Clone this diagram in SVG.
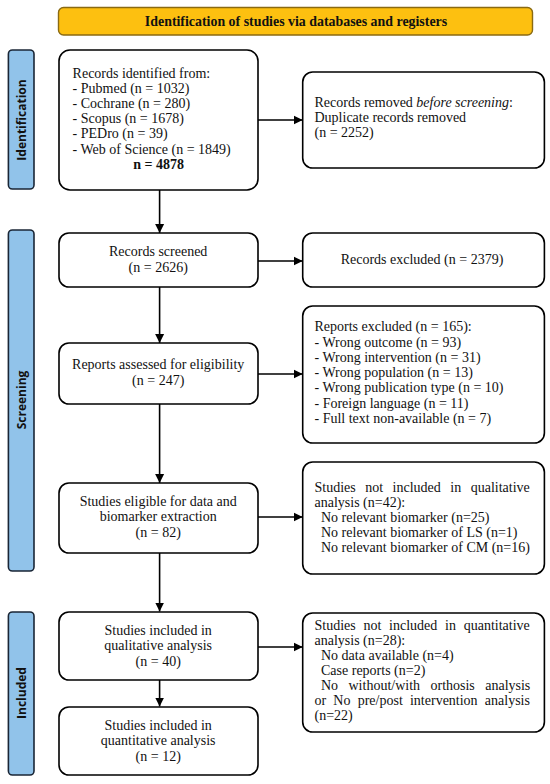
<svg xmlns="http://www.w3.org/2000/svg" width="550" height="784" viewBox="0 0 550 784">
<defs>
<marker id="ah" markerWidth="10" markerHeight="10" refX="9" refY="5" orient="auto" markerUnits="userSpaceOnUse">
<path d="M0,0.5 L9,5 L0,9.5 Z" fill="#000"/>
</marker>
<style>
.box{fill:#fff;stroke:#000;stroke-width:1.6}
.side{fill:#91c3ea;stroke:#1a2636;stroke-width:1.6}
.hdr{fill:#fdc010;stroke:#8a6a12;stroke-width:1.4}
.t{font-family:"Liberation Serif","Times New Roman",serif;font-size:14px;fill:#111}
.c{text-anchor:middle}
.b{font-weight:bold}
.sl{font-family:"Open Sans","DejaVu Sans",sans-serif;font-size:12px;font-weight:bold;fill:#111;text-anchor:middle}
.ln{stroke:#000;stroke-width:1.6;fill:none;marker-end:url(#ah)}
</style>
</defs>
<rect width="550" height="784" fill="#fff"/>

<g id="header">
<rect class="hdr" x="58.5" y="7.5" width="474" height="27.5" rx="5"/>
<text class="t b c" x="296" y="25.5" style="font-size:13.9px">Identification of studies via databases and registers</text>
</g>

<g id="side-identification">
<rect class="side" x="8.4" y="50" width="25.6" height="139" rx="4"/>
<text class="sl" transform="translate(25.5,120) rotate(-90)">Identification</text>
</g>
<g id="side-screening">
<rect class="side" x="8.4" y="230" width="25.6" height="341" rx="4"/>
<text class="sl" transform="translate(25.5,400) rotate(-90)">Screening</text>
</g>
<g id="side-included">
<rect class="side" x="8.4" y="612" width="25.6" height="163" rx="4"/>
<text class="sl" transform="translate(25.5,693) rotate(-90)">Included</text>
</g>

<g id="connectors">
<line class="ln" x1="258" y1="120" x2="302.7" y2="120"/>
<line class="ln" x1="159.6" y1="190" x2="159.6" y2="233"/>
<line class="ln" x1="258" y1="261" x2="302.7" y2="261"/>
<line class="ln" x1="159.6" y1="287" x2="159.6" y2="343"/>
<line class="ln" x1="258" y1="374" x2="302.7" y2="374"/>
<line class="ln" x1="159.6" y1="404" x2="159.6" y2="483"/>
<line class="ln" x1="258" y1="517" x2="302.7" y2="517"/>
<line class="ln" x1="159.6" y1="553" x2="159.6" y2="611.5"/>
<line class="ln" x1="258" y1="647" x2="302.7" y2="647"/>
<line class="ln" x1="159.6" y1="680" x2="159.6" y2="706.5"/>
</g>

<g id="records-identified">
<rect class="box" x="59" y="50" width="199" height="140" rx="11"/>
<text class="t" x="72.6" y="78">Records identified from:</text>
<text class="t" x="72.6" y="93">- Pubmed (n = 1032)</text>
<text class="t" x="72.6" y="108">- Cochrane (n = 280)</text>
<text class="t" x="72.6" y="123">- Scopus (n = 1678)</text>
<text class="t" x="72.6" y="138">- PEDro (n = 39)</text>
<text class="t" x="72.6" y="154">- Web of Science (n = 1849)</text>
<text class="t b c" x="158.7" y="169">n = 4878</text>
</g>

<g id="records-removed">
<rect class="box" x="302.7" y="72" width="241.7" height="96" rx="10"/>
<text class="t" x="314.5" y="107">Records removed <tspan font-style="italic">before screening</tspan>:</text>
<text class="t" x="314.5" y="122">Duplicate records removed</text>
<text class="t" x="314.5" y="137">(n = 2252)</text>
</g>

<g id="records-screened">
<rect class="box" x="59" y="233" width="199" height="54" rx="10"/>
<text class="t c" x="158.2" y="256">Records screened</text>
<text class="t c" x="158.2" y="272">(n = 2626)</text>
</g>

<g id="records-excluded">
<rect class="box" x="302.7" y="233" width="241.7" height="54" rx="10"/>
<text class="t c" x="422" y="264">Records excluded (n = 2379)</text>
</g>

<g id="reports-assessed">
<rect class="box" x="59" y="343" width="199" height="61" rx="10"/>
<text class="t c" x="158.2" y="369">Reports assessed for eligibility</text>
<text class="t c" x="158.2" y="385">(n = 247)</text>
</g>

<g id="reports-excluded">
<rect class="box" x="302.7" y="306" width="241.7" height="137" rx="10"/>
<text class="t" x="314.5" y="331">Reports excluded (n = 165):</text>
<text class="t" x="314.5" y="347">- Wrong outcome (n = 93)</text>
<text class="t" x="314.5" y="362">- Wrong intervention (n = 31)</text>
<text class="t" x="314.5" y="377">- Wrong population (n = 13)</text>
<text class="t" x="314.5" y="392">- Wrong publication type (n = 10)</text>
<text class="t" x="314.5" y="408">- Foreign language (n = 11)</text>
<text class="t" x="314.5" y="423">- Full text non-available (n = 7)</text>
</g>

<g id="studies-eligible">
<rect class="box" x="59" y="483" width="199" height="70" rx="10"/>
<text class="t c" x="158.2" y="506">Studies eligible for data and</text>
<text class="t c" x="158.2" y="521">biomarker extraction</text>
<text class="t c" x="158.2" y="537">(n = 82)</text>
</g>

<g id="not-qualitative">
<rect class="box" x="302.7" y="462" width="241.7" height="112" rx="10"/>
<text class="t" x="314.5" y="492" word-spacing="6">Studies not included in qualitative</text>
<text class="t" x="314.5" y="507">analysis (n=42):</text>
<text class="t" x="321" y="522">No relevant biomarker (n=25)</text>
<text class="t" x="321" y="537">No relevant biomarker of LS (n=1)</text>
<text class="t" x="321" y="552">No relevant biomarker of CM (n=16)</text>
</g>

<g id="included-qualitative">
<rect class="box" x="59" y="612" width="199" height="68" rx="10"/>
<text class="t c" x="158.2" y="635">Studies included in</text>
<text class="t c" x="158.2" y="650">qualitative analysis</text>
<text class="t c" x="158.2" y="666">(n = 40)</text>
</g>

<g id="included-quantitative">
<rect class="box" x="59" y="707" width="199" height="68" rx="10"/>
<text class="t c" x="158.2" y="730">Studies included in</text>
<text class="t c" x="158.2" y="745">quantitative analysis</text>
<text class="t c" x="158.2" y="761">(n = 12)</text>
</g>

<g id="not-quantitative">
<rect class="box" x="302.7" y="613" width="241.7" height="119" rx="10"/>
<text class="t" x="314.5" y="630" word-spacing="4.25">Studies not included in quantitative</text>
<text class="t" x="314.5" y="645">analysis (n=28):</text>
<text class="t" x="321" y="660">No data available (n=4)</text>
<text class="t" x="321" y="675">Case reports (n=2)</text>
<text class="t" x="321" y="690" word-spacing="6.9">No without/with orthosis analysis</text>
<text class="t" x="314.5" y="705" word-spacing="3.7">or No pre/post intervention analysis</text>
<text class="t" x="314.5" y="720">(n=22)</text>
</g>
</svg>
